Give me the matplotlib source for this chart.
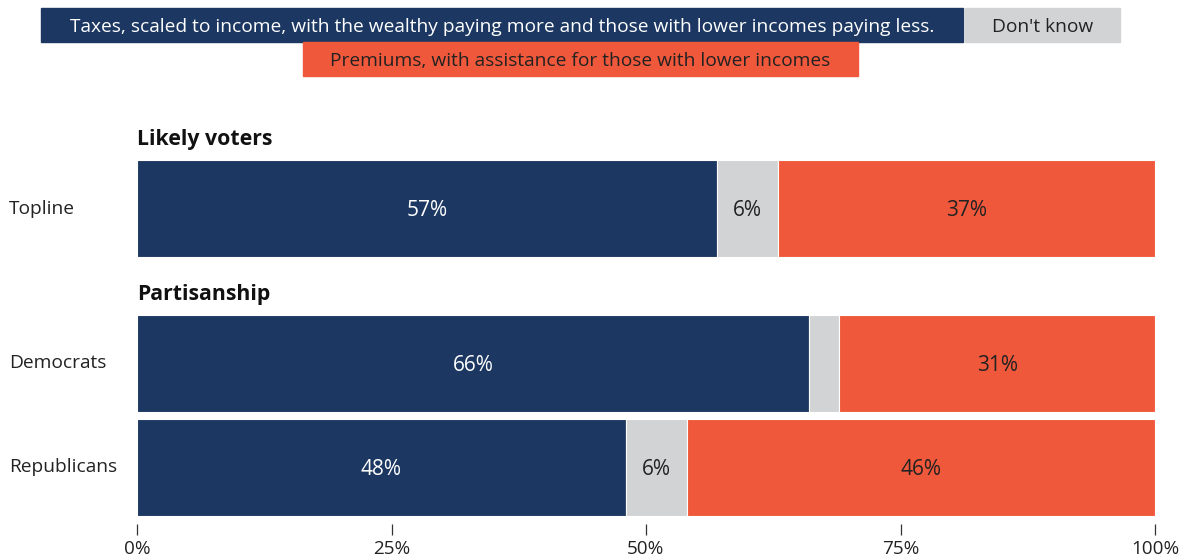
import matplotlib.pyplot as plt
from matplotlib.patches import Rectangle

plt.rcParams['font.family'] = ['Open Sans', 'DejaVu Sans']

# survey results (percent of likely voters)
groups = ['Topline', 'Democrats', 'Republicans']
taxes = [57, 66, 48]
dont_know = [6, 3, 6]
premiums = [37, 31, 46]
shown_labels = [[True, True, True], [True, False, True], [True, True, True]]

legend_labels = ['Taxes, scaled to income, with the wealthy paying more and those with lower incomes paying less.',
                 "Don't know",
                 'Premiums, with assistance for those with lower incomes']
colors = ['#1c3761', '#d2d3d5', '#f0583b']
text_colors = ['white', '#222222', '#222222']

W, H = 1185, 556
fig = plt.figure(figsize=(W / 100, H / 100), dpi=100)
ax = fig.add_axes([137 / W, (H - 516) / H, 1018 / W, 356 / H])

ypos = [2.49, 1, 0]
height = 0.933
series = [taxes, dont_know, premiums]
for i, y in enumerate(ypos):
    left = 0
    for k, vals in enumerate(series):
        v = vals[i]
        ax.barh(y, v, left=left, height=height, color=colors[k],
                edgecolor='white', linewidth=0.8)
        if shown_labels[i][k]:
            ax.text(left + v / 2, y - 0.02, f'{v}%', ha='center', va='center',
                    color=text_colors[k], fontsize=15)
        left += v
    ax.text(-0.1257, y, groups[i], transform=ax.get_yaxis_transform(),
            ha='left', va='center', fontsize=13.8, color='#222222')

ax.set_xlim(0, 100)
ax.set_ylim(-height / 2, ypos[0] + height / 2)
ax.set_yticks([])
for s in ['top', 'right', 'left']:
    ax.spines[s].set_visible(False)
ax.spines['bottom'].set_position(('outward', 6))
ax.spines['bottom'].set_visible(False)
ax.set_xticks([0, 25, 50, 75, 100])
ax.set_xticklabels(['0%', '25%', '50%', '75%', '100%'])
ax.tick_params(axis='x', length=8, width=0.9, color='#333333', pad=3.5,
               labelsize=13.6, labelcolor='#222222')

# section headers
ax.text(0, ypos[0] + height / 2 + 0.1, 'Likely voters', fontsize=15.3,
        fontweight='bold', color='#111111', va='bottom')
ax.text(0, ypos[1] + height / 2 + 0.1, 'Partisanship', fontsize=15.3,
        fontweight='bold', color='#111111', va='bottom')

# legend boxes along the top
boxes = [(41, 8, 922, 34), (965, 8, 155, 34), (303, 42, 555, 34)]
for (x, y, w, h), lab, c, tc in zip(boxes, legend_labels, colors, text_colors):
    fig.patches.append(Rectangle((x / W, 1 - (y + h) / H), w / W, h / H,
                                 transform=fig.transFigure, color=c))
    fig.text((x + w / 2) / W, 1 - (y + h / 2 + 1.5) / H, lab, ha='center',
             va='center', color=tc, fontsize=13.8)

fig.savefig('out.png', dpi=100)
